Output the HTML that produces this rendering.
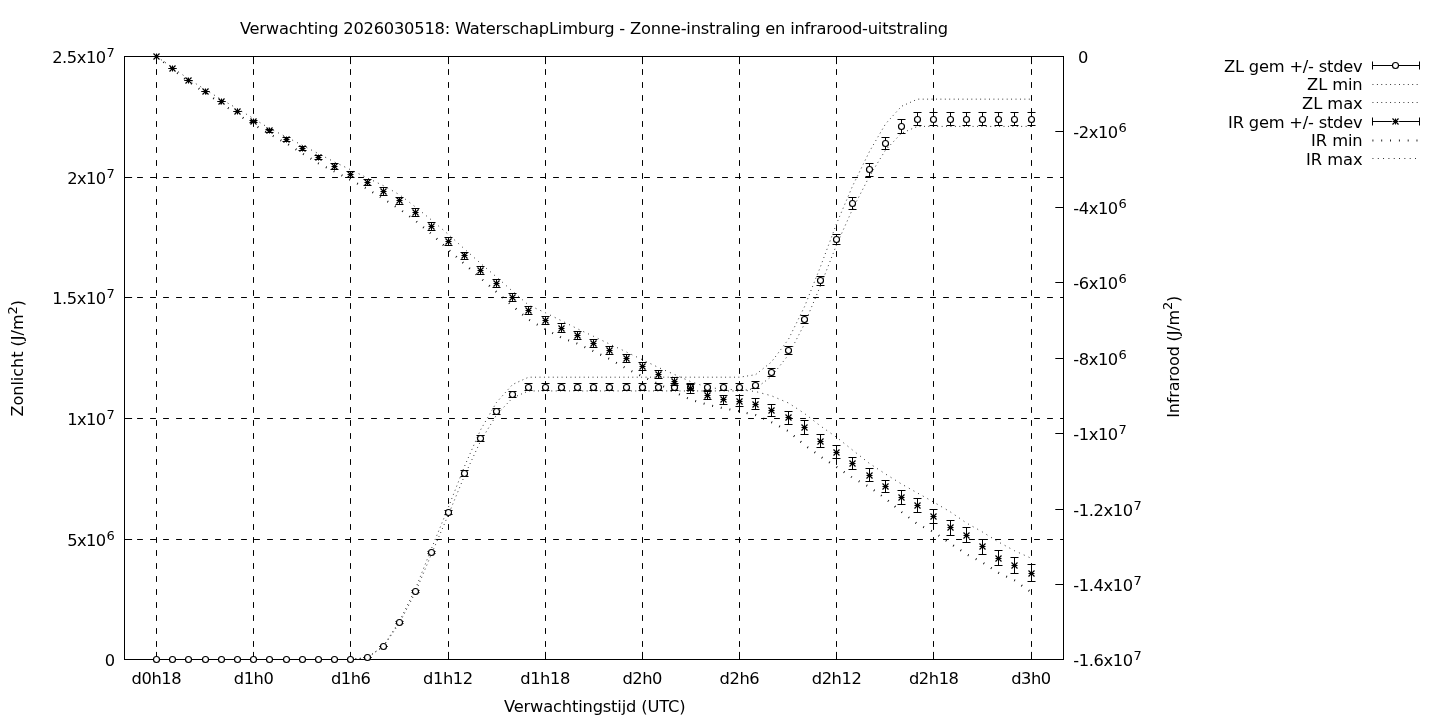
<!DOCTYPE html>
<html lang="nl"><head><meta charset="utf-8"><title>Verwachting 2026030518: WaterschapLimburg</title>
<style>html,body{margin:0;padding:0;background:#fff}svg{display:block}</style></head>
<body>
<svg width="1440" height="720" viewBox="0 0 1440 720">
<rect width="1440" height="720" fill="#fff"/>
<g stroke="#000" stroke-width="1" stroke-dasharray="5 8" stroke-linecap="round" fill="none">
<path d="M156.5 659.5 V56.5"/>
<path d="M253.5 659.5 V56.5"/>
<path d="M350.5 659.5 V56.5"/>
<path d="M448.5 659.5 V56.5"/>
<path d="M545.5 659.5 V56.5"/>
<path d="M642.5 659.5 V56.5"/>
<path d="M739.5 659.5 V56.5"/>
<path d="M836.5 659.5 V56.5"/>
<path d="M933.5 659.5 V56.5"/>
<path d="M1031.5 659.5 V56.5"/>
<path d="M124.5 539.5 H1063.5"/>
<path d="M124.5 418.5 H1063.5"/>
<path d="M124.5 297.5 H1063.5"/>
<path d="M124.5 177.5 H1063.5"/>
</g>
<g stroke="#000" stroke-width="1" fill="none">
<path d="M156.5 659.5 v-7.6"/>
<path d="M156.5 56.5 v7.6"/>
<path d="M253.5 659.5 v-7.6"/>
<path d="M253.5 56.5 v7.6"/>
<path d="M350.5 659.5 v-7.6"/>
<path d="M350.5 56.5 v7.6"/>
<path d="M448.5 659.5 v-7.6"/>
<path d="M448.5 56.5 v7.6"/>
<path d="M545.5 659.5 v-7.6"/>
<path d="M545.5 56.5 v7.6"/>
<path d="M642.5 659.5 v-7.6"/>
<path d="M642.5 56.5 v7.6"/>
<path d="M739.5 659.5 v-7.6"/>
<path d="M739.5 56.5 v7.6"/>
<path d="M836.5 659.5 v-7.6"/>
<path d="M836.5 56.5 v7.6"/>
<path d="M933.5 659.5 v-7.6"/>
<path d="M933.5 56.5 v7.6"/>
<path d="M1031.5 659.5 v-7.6"/>
<path d="M1031.5 56.5 v7.6"/>
<path d="M124.5 539.5 h7.6"/>
<path d="M124.5 418.5 h7.6"/>
<path d="M124.5 297.5 h7.6"/>
<path d="M124.5 177.5 h7.6"/>
<path d="M124.5 659.5 h7.6"/>
<path d="M124.5 56.5 h7.6"/>
<path d="M1063.5 56.5 h-8.2"/>
<path d="M1063.5 131.5 h-8.2"/>
<path d="M1063.5 207.5 h-8.2"/>
<path d="M1063.5 282.5 h-8.2"/>
<path d="M1063.5 358.5 h-8.2"/>
<path d="M1063.5 433.5 h-8.2"/>
<path d="M1063.5 509.5 h-8.2"/>
<path d="M1063.5 584.5 h-8.2"/>
<path d="M1063.5 659.5 h-8.2"/>
</g>
<rect x="124.5" y="56.5" width="939" height="603" fill="none" stroke="#000" stroke-width="1"/>
<g font-family="DejaVu Sans, Liberation Sans, sans-serif" font-size="16.3" fill="#000">
<text x="104.8" y="665.8" textLength="10" lengthAdjust="spacing">0</text>
<text x="67.2" y="545.8" textLength="39" lengthAdjust="spacing">5x10</text><text x="106.5" y="539.9" font-size="13">6</text>
<text x="67.2" y="424.8" textLength="39" lengthAdjust="spacing">1x10</text><text x="106.5" y="418.9" font-size="13">7</text>
<text x="52.2" y="303.8" textLength="54" lengthAdjust="spacing">1.5x10</text><text x="106.5" y="297.9" font-size="13">7</text>
<text x="67.2" y="183.8" textLength="39" lengthAdjust="spacing">2x10</text><text x="106.5" y="177.9" font-size="13">7</text>
<text x="52.2" y="62.8" textLength="54" lengthAdjust="spacing">2.5x10</text><text x="106.5" y="56.9" font-size="13">7</text>
<text x="1078.1" y="62.6" textLength="10" lengthAdjust="spacing">0</text>
<text x="1073.2" y="137.6" textLength="45" lengthAdjust="spacing">-2x10</text><text x="1118.5" y="131.7" font-size="13">6</text>
<text x="1073.2" y="213.6" textLength="45" lengthAdjust="spacing">-4x10</text><text x="1118.5" y="207.7" font-size="13">6</text>
<text x="1073.2" y="288.6" textLength="45" lengthAdjust="spacing">-6x10</text><text x="1118.5" y="282.7" font-size="13">6</text>
<text x="1073.2" y="364.6" textLength="45" lengthAdjust="spacing">-8x10</text><text x="1118.5" y="358.7" font-size="13">6</text>
<text x="1073.2" y="439.6" textLength="45" lengthAdjust="spacing">-1x10</text><text x="1118.5" y="433.7" font-size="13">7</text>
<text x="1073.2" y="515.6" textLength="60" lengthAdjust="spacing">-1.2x10</text><text x="1133.5" y="509.7" font-size="13">7</text>
<text x="1073.2" y="590.6" textLength="60" lengthAdjust="spacing">-1.4x10</text><text x="1133.5" y="584.7" font-size="13">7</text>
<text x="1073.2" y="665.6" textLength="60" lengthAdjust="spacing">-1.6x10</text><text x="1133.5" y="659.7" font-size="13">7</text>
<text x="131.6" y="684.3" textLength="50" lengthAdjust="spacing">d0h18</text>
<text x="233.77" y="684.3" textLength="40" lengthAdjust="spacing">d1h0</text>
<text x="330.94" y="684.3" textLength="40" lengthAdjust="spacing">d1h6</text>
<text x="423.11" y="684.3" textLength="50" lengthAdjust="spacing">d1h12</text>
<text x="520.28" y="684.3" textLength="50" lengthAdjust="spacing">d1h18</text>
<text x="622.45" y="684.3" textLength="40" lengthAdjust="spacing">d2h0</text>
<text x="719.62" y="684.3" textLength="40" lengthAdjust="spacing">d2h6</text>
<text x="811.79" y="684.3" textLength="50" lengthAdjust="spacing">d2h12</text>
<text x="908.96" y="684.3" textLength="50" lengthAdjust="spacing">d2h18</text>
<text x="1011.13" y="684.3" textLength="40" lengthAdjust="spacing">d3h0</text>
<text x="504" y="712.1" textLength="181.5" lengthAdjust="spacing">Verwachtingstijd (UTC)</text>
<text x="239.9" y="34.3" textLength="708.2" lengthAdjust="spacing">Verwachting 2026030518: WaterschapLimburg - Zonne-instraling en infrarood-uitstraling</text>
<text transform="translate(23.4 358.2) rotate(-90)" text-anchor="middle" font-size="16">Zonlicht (J/m<tspan font-size="13" dy="-6.8">2</tspan><tspan dy="6.8">)</tspan></text>
<text transform="translate(1179 356.85) rotate(-90)" text-anchor="middle" font-size="16" letter-spacing="-0.15">Infrarood (J/m<tspan font-size="13" dy="-6.8">2</tspan><tspan dy="6.8">)</tspan></text>
<text x="1224.1" y="71.7" textLength="138.6" lengthAdjust="spacing">ZL gem +/- stdev</text>
<text x="1307.1" y="90.2" textLength="55.6" lengthAdjust="spacing">ZL min</text>
<text x="1302.1" y="108.8" textLength="60.6" lengthAdjust="spacing">ZL max</text>
<text x="1228.1" y="127.6" textLength="134.6" lengthAdjust="spacing">IR gem +/- stdev</text>
<text x="1311.1" y="145.9" textLength="51.6" lengthAdjust="spacing">IR min</text>
<text x="1306.1" y="164.6" textLength="56.6" lengthAdjust="spacing">IR max</text>
</g>
<polyline points="156.5,659.5 172.5,659.5 188.5,659.5 205.5,659.5 221.5,659.5 237.5,659.5 253.5,659.5 269.5,659.5 286.5,659.5 302.5,659.5 318.5,659.5 334.5,659.5 350.5,659.5 367.5,657.53 383.5,646.47 399.5,622.98 415.5,592.19 431.5,553.89 448.5,514.41 464.5,475.72 480.5,441.18 496.5,414.92 512.5,397.94 528.5,390.94 545.5,390.94 561.5,390.94 577.5,390.94 593.5,390.94 609.5,390.94 626.5,390.94 642.5,390.94 658.5,390.94 674.5,390.94 690.5,390.94 707.5,390.94 723.5,390.94 739.5,390.94 755.5,388.57 771.5,376.43 788.5,354.81 804.5,323.92 820.5,285.72 836.5,244.96 852.5,209.23 869.5,176.17 885.5,150.01 901.5,133.23 917.5,126.42 933.5,126.42 950.5,126.42 966.5,126.42 982.5,126.42 998.5,126.42 1014.5,126.42 1031.5,126.42" stroke="#000" stroke-width="0.88" stroke-dasharray="0.88 3.54" fill="none"/>
<polyline points="156.5,659.5 172.5,659.5 188.5,659.5 205.5,659.5 221.5,659.5 237.5,659.5 253.5,659.5 269.5,659.5 286.5,659.5 302.5,659.5 318.5,659.5 334.5,659.5 350.5,659.5 367.5,657.42 383.5,645.8 399.5,621.11 415.5,588.74 431.5,548.49 448.5,506.99 464.5,466.32 480.5,430 496.5,402.41 512.5,384.56 528.5,377.2 545.5,377.2 561.5,377.2 577.5,377.2 593.5,377.2 609.5,377.2 626.5,377.2 642.5,377.2 658.5,377.2 674.5,377.2 690.5,377.2 707.5,377.2 723.5,377.2 739.5,377.2 755.5,374.71 771.5,361.94 788.5,339.22 804.5,306.75 820.5,266.6 836.5,223.75 852.5,186.19 869.5,151.44 885.5,123.94 901.5,106.3 917.5,99.15 933.5,99.15 950.5,99.15 966.5,99.15 982.5,99.15 998.5,99.15 1014.5,99.15 1031.5,99.15" stroke="#000" stroke-width="0.88" stroke-dasharray="0.88 3.54" fill="none"/>
<polyline points="156.5,56.5 172.5,69.3 188.5,81.6 205.5,93 221.5,103.8 237.5,114.2 253.5,124.5 269.5,134 286.5,143.3 302.5,153.5 318.5,163.4 334.5,171.5 350.5,180 367.5,189 383.5,199 399.5,209 415.5,220.8 431.5,234 448.5,249.8 464.5,264 480.5,278.1 496.5,292 512.5,306 528.5,319.5 545.5,329.3 561.5,337.7 577.5,343.7 593.5,351.2 609.5,359 626.5,368.6 642.5,376.5 658.5,384 674.5,392.2 690.5,399.5 707.5,404.7 723.5,408.3 739.5,411.3 755.5,415 771.5,422.2 788.5,431.2 804.5,445 820.5,456.5 836.5,467 852.5,477.7 869.5,487 885.5,498.5 901.5,512 917.5,524 933.5,532 950.5,543.5 966.5,554.3 982.5,562.4 998.5,572.8 1014.5,580.4 1031.5,592.4" stroke="#000" stroke-width="2.1" stroke-dasharray="0.85 7.96" fill="none"/>
<polyline points="156.5,56.5 172.5,67.5 188.5,79 205.5,89.8 221.5,99.5 237.5,108.7 253.5,118.6 269.5,128.4 286.5,137 302.5,145.4 318.5,153.7 334.5,162 350.5,169.7 367.5,178 383.5,185.7 399.5,194.7 415.5,207 431.5,220 448.5,234.5 464.5,249 480.5,263.3 496.5,277 512.5,291.2 528.5,305 545.5,312.8 561.5,320.7 577.5,328.8 593.5,336.3 609.5,344 626.5,352 642.5,359.8 658.5,367.5 674.5,374.5 690.5,381.5 707.5,387.3 723.5,389.3 739.5,389.8 755.5,391.5 771.5,395.8 788.5,403 804.5,413.5 820.5,426 836.5,437.2 852.5,450 869.5,463.5 885.5,474 901.5,484 917.5,493 933.5,502 950.5,512 966.5,523 982.5,532 998.5,542 1014.5,550.7 1031.5,558.4" stroke="#000" stroke-width="0.9" stroke-dasharray="0.9 4.42" fill="none"/>
<path d="M1372.5 84.5 H1419.5" stroke="#000" stroke-width="0.88" stroke-dasharray="0.88 3.54" fill="none"/>
<path d="M1372.5 102.5 H1419.5" stroke="#000" stroke-width="0.88" stroke-dasharray="0.88 3.54" fill="none"/>
<path d="M1372.5 140.5 H1419.5" stroke="#000" stroke-width="2.1" stroke-dasharray="0.85 7.96" fill="none"/>
<path d="M1372.5 158.5 H1419.5" stroke="#000" stroke-width="0.9" stroke-dasharray="0.9 4.42" fill="none"/>
<path d="M156.5 659.5 V659.5 M152.5 659.5 h8 M152.5 659.5 h8 M172.5 659.5 V659.5 M168.5 659.5 h8 M168.5 659.5 h8 M188.5 659.5 V659.5 M184.5 659.5 h8 M184.5 659.5 h8 M205.5 659.5 V659.5 M201.5 659.5 h8 M201.5 659.5 h8 M221.5 659.5 V659.5 M217.5 659.5 h8 M217.5 659.5 h8 M237.5 659.5 V659.5 M233.5 659.5 h8 M233.5 659.5 h8 M253.5 659.5 V659.5 M249.5 659.5 h8 M249.5 659.5 h8 M269.5 659.5 V659.5 M265.5 659.5 h8 M265.5 659.5 h8 M286.5 659.5 V659.5 M282.5 659.5 h8 M282.5 659.5 h8 M302.5 659.5 V659.5 M298.5 659.5 h8 M298.5 659.5 h8 M318.5 659.5 V659.5 M314.5 659.5 h8 M314.5 659.5 h8 M334.5 659.5 V659.5 M330.5 659.5 h8 M330.5 659.5 h8 M350.5 659.5 V659.5 M346.5 659.5 h8 M346.5 659.5 h8 M367.5 657.5 V657.5 M363.5 657.5 h8 M363.5 657.5 h8 M383.5 646.5 V646.5 M379.5 646.5 h8 M379.5 646.5 h8 M399.5 621.5 V623.5 M395.5 621.5 h8 M395.5 623.5 h8 M415.5 590.5 V592.5 M411.5 590.5 h8 M411.5 592.5 h8 M431.5 551.5 V553.5 M427.5 551.5 h8 M427.5 553.5 h8 M448.5 510.5 V514.5 M444.5 510.5 h8 M444.5 514.5 h8 M464.5 470.5 V476.5 M460.5 470.5 h8 M460.5 476.5 h8 M480.5 435.5 V441.5 M476.5 435.5 h8 M476.5 441.5 h8 M496.5 408.5 V414.5 M492.5 408.5 h8 M492.5 414.5 h8 M512.5 391.5 V397.5 M508.5 391.5 h8 M508.5 397.5 h8 M528.5 383.5 V390.5 M524.5 383.5 h8 M524.5 390.5 h8 M545.5 383.5 V390.5 M541.5 383.5 h8 M541.5 390.5 h8 M561.5 383.5 V390.5 M557.5 383.5 h8 M557.5 390.5 h8 M577.5 383.5 V390.5 M573.5 383.5 h8 M573.5 390.5 h8 M593.5 383.5 V390.5 M589.5 383.5 h8 M589.5 390.5 h8 M609.5 383.5 V390.5 M605.5 383.5 h8 M605.5 390.5 h8 M626.5 383.5 V390.5 M622.5 383.5 h8 M622.5 390.5 h8 M642.5 383.5 V390.5 M638.5 383.5 h8 M638.5 390.5 h8 M658.5 383.5 V390.5 M654.5 383.5 h8 M654.5 390.5 h8 M674.5 383.5 V390.5 M670.5 383.5 h8 M670.5 390.5 h8 M690.5 383.5 V390.5 M686.5 383.5 h8 M686.5 390.5 h8 M707.5 383.5 V390.5 M703.5 383.5 h8 M703.5 390.5 h8 M723.5 383.5 V390.5 M719.5 383.5 h8 M719.5 390.5 h8 M739.5 383.5 V390.5 M735.5 383.5 h8 M735.5 390.5 h8 M755.5 381.5 V388.5 M751.5 381.5 h8 M751.5 388.5 h8 M771.5 368.5 V376.5 M767.5 368.5 h8 M767.5 376.5 h8 M788.5 346.5 V354.5 M784.5 346.5 h8 M784.5 354.5 h8 M804.5 315.5 V323.5 M800.5 315.5 h8 M800.5 323.5 h8 M820.5 276.5 V285.5 M816.5 276.5 h8 M816.5 285.5 h8 M836.5 234.5 V244.5 M832.5 234.5 h8 M832.5 244.5 h8 M852.5 197.5 V209.5 M848.5 197.5 h8 M848.5 209.5 h8 M869.5 163.5 V176.5 M865.5 163.5 h8 M865.5 176.5 h8 M885.5 137.5 V149.5 M881.5 137.5 h8 M881.5 149.5 h8 M901.5 119.5 V133.5 M897.5 119.5 h8 M897.5 133.5 h8 M917.5 112.5 V125.5 M913.5 112.5 h8 M913.5 125.5 h8 M933.5 112.5 V125.5 M929.5 112.5 h8 M929.5 125.5 h8 M950.5 112.5 V125.5 M946.5 112.5 h8 M946.5 125.5 h8 M966.5 112.5 V125.5 M962.5 112.5 h8 M962.5 125.5 h8 M982.5 112.5 V125.5 M978.5 112.5 h8 M978.5 125.5 h8 M998.5 112.5 V125.5 M994.5 112.5 h8 M994.5 125.5 h8 M1014.5 112.5 V125.5 M1010.5 112.5 h8 M1010.5 125.5 h8 M1031.5 112.5 V125.5 M1027.5 112.5 h8 M1027.5 125.5 h8 M1372.5 65.5 H1419.5 M1372.5 61.5 v8 M1419.5 61.5 v8" stroke="#000" stroke-width="1" fill="none"/>
<g stroke="#000" stroke-width="1.15" fill="#fff">
<circle cx="156.5" cy="659.5" r="3"/>
<circle cx="172.5" cy="659.5" r="3"/>
<circle cx="188.5" cy="659.5" r="3"/>
<circle cx="205.5" cy="659.5" r="3"/>
<circle cx="221.5" cy="659.5" r="3"/>
<circle cx="237.5" cy="659.5" r="3"/>
<circle cx="253.5" cy="659.5" r="3"/>
<circle cx="269.5" cy="659.5" r="3"/>
<circle cx="286.5" cy="659.5" r="3"/>
<circle cx="302.5" cy="659.5" r="3"/>
<circle cx="318.5" cy="659.5" r="3"/>
<circle cx="334.5" cy="659.5" r="3"/>
<circle cx="350.5" cy="659.5" r="3"/>
<circle cx="367.5" cy="657.5" r="3"/>
<circle cx="383.5" cy="646.5" r="3"/>
<circle cx="399.5" cy="622.5" r="3"/>
<circle cx="415.5" cy="591.5" r="3"/>
<circle cx="431.5" cy="552.5" r="3"/>
<circle cx="448.5" cy="512.5" r="3"/>
<circle cx="464.5" cy="473.5" r="3"/>
<circle cx="480.5" cy="438.5" r="3"/>
<circle cx="496.5" cy="411.5" r="3"/>
<circle cx="512.5" cy="394.5" r="3"/>
<circle cx="528.5" cy="387.5" r="3"/>
<circle cx="545.5" cy="387.5" r="3"/>
<circle cx="561.5" cy="387.5" r="3"/>
<circle cx="577.5" cy="387.5" r="3"/>
<circle cx="593.5" cy="387.5" r="3"/>
<circle cx="609.5" cy="387.5" r="3"/>
<circle cx="626.5" cy="387.5" r="3"/>
<circle cx="642.5" cy="387.5" r="3"/>
<circle cx="658.5" cy="387.5" r="3"/>
<circle cx="674.5" cy="387.5" r="3"/>
<circle cx="690.5" cy="387.5" r="3"/>
<circle cx="707.5" cy="387.5" r="3"/>
<circle cx="723.5" cy="387.5" r="3"/>
<circle cx="739.5" cy="387.5" r="3"/>
<circle cx="755.5" cy="385.5" r="3"/>
<circle cx="771.5" cy="372.5" r="3"/>
<circle cx="788.5" cy="350.5" r="3"/>
<circle cx="804.5" cy="319.5" r="3"/>
<circle cx="820.5" cy="280.5" r="3"/>
<circle cx="836.5" cy="239.5" r="3"/>
<circle cx="852.5" cy="203.5" r="3"/>
<circle cx="869.5" cy="169.5" r="3"/>
<circle cx="885.5" cy="143.5" r="3"/>
<circle cx="901.5" cy="126.5" r="3"/>
<circle cx="917.5" cy="119.5" r="3"/>
<circle cx="933.5" cy="119.5" r="3"/>
<circle cx="950.5" cy="119.5" r="3"/>
<circle cx="966.5" cy="119.5" r="3"/>
<circle cx="982.5" cy="119.5" r="3"/>
<circle cx="998.5" cy="119.5" r="3"/>
<circle cx="1014.5" cy="119.5" r="3"/>
<circle cx="1031.5" cy="119.5" r="3"/>
<circle cx="1395.5" cy="65.5" r="3"/>
</g>
<path d="M156.5 56.5 V56.5 M152.5 56.5 h8 M152.5 56.5 h8 M172.5 68.5 V68.5 M168.5 68.5 h8 M168.5 68.5 h8 M188.5 80.5 V80.5 M184.5 80.5 h8 M184.5 80.5 h8 M205.5 91.5 V91.5 M201.5 91.5 h8 M201.5 91.5 h8 M221.5 101.5 V101.5 M217.5 101.5 h8 M217.5 101.5 h8 M237.5 111.5 V111.5 M233.5 111.5 h8 M233.5 111.5 h8 M253.5 120.5 V122.5 M249.5 120.5 h8 M249.5 122.5 h8 M269.5 129.5 V132.5 M265.5 129.5 h8 M265.5 132.5 h8 M286.5 137.5 V141.5 M282.5 137.5 h8 M282.5 141.5 h8 M302.5 146.5 V150.5 M298.5 146.5 h8 M298.5 150.5 h8 M318.5 155.5 V159.5 M314.5 155.5 h8 M314.5 159.5 h8 M334.5 163.5 V169.5 M330.5 163.5 h8 M330.5 169.5 h8 M350.5 171.5 V177.5 M346.5 171.5 h8 M346.5 177.5 h8 M367.5 179.5 V185.5 M363.5 179.5 h8 M363.5 185.5 h8 M383.5 187.5 V195.5 M379.5 187.5 h8 M379.5 195.5 h8 M399.5 197.5 V204.5 M395.5 197.5 h8 M395.5 204.5 h8 M415.5 208.5 V216.5 M411.5 208.5 h8 M411.5 216.5 h8 M431.5 222.5 V230.5 M427.5 222.5 h8 M427.5 230.5 h8 M448.5 237.5 V245.5 M444.5 237.5 h8 M444.5 245.5 h8 M464.5 252.5 V259.5 M460.5 252.5 h8 M460.5 259.5 h8 M480.5 266.5 V274.5 M476.5 266.5 h8 M476.5 274.5 h8 M496.5 279.5 V287.5 M492.5 279.5 h8 M492.5 287.5 h8 M512.5 293.5 V301.5 M508.5 293.5 h8 M508.5 301.5 h8 M528.5 306.5 V314.5 M524.5 306.5 h8 M524.5 314.5 h8 M545.5 316.5 V324.5 M541.5 316.5 h8 M541.5 324.5 h8 M561.5 323.5 V332.5 M557.5 323.5 h8 M557.5 332.5 h8 M577.5 331.5 V339.5 M573.5 331.5 h8 M573.5 339.5 h8 M593.5 339.5 V347.5 M589.5 339.5 h8 M589.5 347.5 h8 M609.5 346.5 V354.5 M605.5 346.5 h8 M605.5 354.5 h8 M626.5 354.5 V362.5 M622.5 354.5 h8 M622.5 362.5 h8 M642.5 362.5 V370.5 M638.5 362.5 h8 M638.5 370.5 h8 M658.5 370.5 V378.5 M654.5 370.5 h8 M654.5 378.5 h8 M674.5 377.5 V385.5 M670.5 377.5 h8 M670.5 385.5 h8 M690.5 384.5 V393.5 M686.5 384.5 h8 M686.5 393.5 h8 M707.5 391.5 V399.5 M703.5 391.5 h8 M703.5 399.5 h8 M723.5 395.5 V404.5 M719.5 395.5 h8 M719.5 404.5 h8 M739.5 395.5 V406.5 M735.5 395.5 h8 M735.5 406.5 h8 M755.5 398.5 V409.5 M751.5 398.5 h8 M751.5 409.5 h8 M771.5 404.5 V416.5 M767.5 404.5 h8 M767.5 416.5 h8 M788.5 411.5 V424.5 M784.5 411.5 h8 M784.5 424.5 h8 M804.5 420.5 V434.5 M800.5 420.5 h8 M800.5 434.5 h8 M820.5 434.5 V447.5 M816.5 434.5 h8 M816.5 447.5 h8 M836.5 445.5 V458.5 M832.5 445.5 h8 M832.5 458.5 h8 M852.5 457.5 V469.5 M848.5 457.5 h8 M848.5 469.5 h8 M869.5 468.5 V481.5 M865.5 468.5 h8 M865.5 481.5 h8 M885.5 480.5 V492.5 M881.5 480.5 h8 M881.5 492.5 h8 M901.5 490.5 V504.5 M897.5 490.5 h8 M897.5 504.5 h8 M917.5 498.5 V512.5 M913.5 498.5 h8 M913.5 512.5 h8 M933.5 509.5 V523.5 M929.5 509.5 h8 M929.5 523.5 h8 M950.5 520.5 V535.5 M946.5 520.5 h8 M946.5 535.5 h8 M966.5 527.5 V542.5 M962.5 527.5 h8 M962.5 542.5 h8 M982.5 539.5 V554.5 M978.5 539.5 h8 M978.5 554.5 h8 M998.5 550.5 V565.5 M994.5 550.5 h8 M994.5 565.5 h8 M1014.5 557.5 V573.5 M1010.5 557.5 h8 M1010.5 573.5 h8 M1031.5 564.5 V581.5 M1027.5 564.5 h8 M1027.5 581.5 h8 M1372.5 121.5 H1391.9 M1399.1 121.5 H1419.5 M1372.5 117.5 v8 M1419.5 117.5 v8 M153.5 56.5 h6 M156.5 53.5 v6 M169.5 68.5 h6 M172.5 65.5 v6 M185.5 80.5 h6 M188.5 77.5 v6 M202.5 91.5 h6 M205.5 88.5 v6 M218.5 101.5 h6 M221.5 98.5 v6 M234.5 111.5 h6 M237.5 108.5 v6 M250.5 121.5 h6 M253.5 118.5 v6 M266.5 130.5 h6 M269.5 127.5 v6 M283.5 139.5 h6 M286.5 136.5 v6 M299.5 148.5 h6 M302.5 145.5 v6 M315.5 157.5 h6 M318.5 154.5 v6 M331.5 166.5 h6 M334.5 163.5 v6 M347.5 174.5 h6 M350.5 171.5 v6 M364.5 182.5 h6 M367.5 179.5 v6 M380.5 191.5 h6 M383.5 188.5 v6 M396.5 200.5 h6 M399.5 197.5 v6 M412.5 212.5 h6 M415.5 209.5 v6 M428.5 226.5 h6 M431.5 223.5 v6 M445.5 241.5 h6 M448.5 238.5 v6 M461.5 255.5 h6 M464.5 252.5 v6 M477.5 270.5 h6 M480.5 267.5 v6 M493.5 283.5 h6 M496.5 280.5 v6 M509.5 297.5 h6 M512.5 294.5 v6 M525.5 310.5 h6 M528.5 307.5 v6 M542.5 320.5 h6 M545.5 317.5 v6 M558.5 328.5 h6 M561.5 325.5 v6 M574.5 335.5 h6 M577.5 332.5 v6 M590.5 343.5 h6 M593.5 340.5 v6 M606.5 350.5 h6 M609.5 347.5 v6 M623.5 358.5 h6 M626.5 355.5 v6 M639.5 366.5 h6 M642.5 363.5 v6 M655.5 374.5 h6 M658.5 371.5 v6 M671.5 381.5 h6 M674.5 378.5 v6 M687.5 388.5 h6 M690.5 385.5 v6 M704.5 395.5 h6 M707.5 392.5 v6 M720.5 399.5 h6 M723.5 396.5 v6 M736.5 401.5 h6 M739.5 398.5 v6 M752.5 404.5 h6 M755.5 401.5 v6 M768.5 410.5 h6 M771.5 407.5 v6 M785.5 417.5 h6 M788.5 414.5 v6 M801.5 427.5 h6 M804.5 424.5 v6 M817.5 441.5 h6 M820.5 438.5 v6 M833.5 452.5 h6 M836.5 449.5 v6 M849.5 463.5 h6 M852.5 460.5 v6 M866.5 475.5 h6 M869.5 472.5 v6 M882.5 486.5 h6 M885.5 483.5 v6 M898.5 497.5 h6 M901.5 494.5 v6 M914.5 505.5 h6 M917.5 502.5 v6 M930.5 516.5 h6 M933.5 513.5 v6 M947.5 527.5 h6 M950.5 524.5 v6 M963.5 535.5 h6 M966.5 532.5 v6 M979.5 546.5 h6 M982.5 543.5 v6 M995.5 558.5 h6 M998.5 555.5 v6 M1011.5 565.5 h6 M1014.5 562.5 v6 M1028.5 573.5 h6 M1031.5 570.5 v6 M1392.5 121.5 h6 M1395.5 118.5 v6" stroke="#000" stroke-width="1" fill="none"/>
<path d="M153.5 53.5 l6 6 M153.5 59.5 l6 -6 M169.5 65.5 l6 6 M169.5 71.5 l6 -6 M185.5 77.5 l6 6 M185.5 83.5 l6 -6 M202.5 88.5 l6 6 M202.5 94.5 l6 -6 M218.5 98.5 l6 6 M218.5 104.5 l6 -6 M234.5 108.5 l6 6 M234.5 114.5 l6 -6 M250.5 118.5 l6 6 M250.5 124.5 l6 -6 M266.5 127.5 l6 6 M266.5 133.5 l6 -6 M283.5 136.5 l6 6 M283.5 142.5 l6 -6 M299.5 145.5 l6 6 M299.5 151.5 l6 -6 M315.5 154.5 l6 6 M315.5 160.5 l6 -6 M331.5 163.5 l6 6 M331.5 169.5 l6 -6 M347.5 171.5 l6 6 M347.5 177.5 l6 -6 M364.5 179.5 l6 6 M364.5 185.5 l6 -6 M380.5 188.5 l6 6 M380.5 194.5 l6 -6 M396.5 197.5 l6 6 M396.5 203.5 l6 -6 M412.5 209.5 l6 6 M412.5 215.5 l6 -6 M428.5 223.5 l6 6 M428.5 229.5 l6 -6 M445.5 238.5 l6 6 M445.5 244.5 l6 -6 M461.5 252.5 l6 6 M461.5 258.5 l6 -6 M477.5 267.5 l6 6 M477.5 273.5 l6 -6 M493.5 280.5 l6 6 M493.5 286.5 l6 -6 M509.5 294.5 l6 6 M509.5 300.5 l6 -6 M525.5 307.5 l6 6 M525.5 313.5 l6 -6 M542.5 317.5 l6 6 M542.5 323.5 l6 -6 M558.5 325.5 l6 6 M558.5 331.5 l6 -6 M574.5 332.5 l6 6 M574.5 338.5 l6 -6 M590.5 340.5 l6 6 M590.5 346.5 l6 -6 M606.5 347.5 l6 6 M606.5 353.5 l6 -6 M623.5 355.5 l6 6 M623.5 361.5 l6 -6 M639.5 363.5 l6 6 M639.5 369.5 l6 -6 M655.5 371.5 l6 6 M655.5 377.5 l6 -6 M671.5 378.5 l6 6 M671.5 384.5 l6 -6 M687.5 385.5 l6 6 M687.5 391.5 l6 -6 M704.5 392.5 l6 6 M704.5 398.5 l6 -6 M720.5 396.5 l6 6 M720.5 402.5 l6 -6 M736.5 398.5 l6 6 M736.5 404.5 l6 -6 M752.5 401.5 l6 6 M752.5 407.5 l6 -6 M768.5 407.5 l6 6 M768.5 413.5 l6 -6 M785.5 414.5 l6 6 M785.5 420.5 l6 -6 M801.5 424.5 l6 6 M801.5 430.5 l6 -6 M817.5 438.5 l6 6 M817.5 444.5 l6 -6 M833.5 449.5 l6 6 M833.5 455.5 l6 -6 M849.5 460.5 l6 6 M849.5 466.5 l6 -6 M866.5 472.5 l6 6 M866.5 478.5 l6 -6 M882.5 483.5 l6 6 M882.5 489.5 l6 -6 M898.5 494.5 l6 6 M898.5 500.5 l6 -6 M914.5 502.5 l6 6 M914.5 508.5 l6 -6 M930.5 513.5 l6 6 M930.5 519.5 l6 -6 M947.5 524.5 l6 6 M947.5 530.5 l6 -6 M963.5 532.5 l6 6 M963.5 538.5 l6 -6 M979.5 543.5 l6 6 M979.5 549.5 l6 -6 M995.5 555.5 l6 6 M995.5 561.5 l6 -6 M1011.5 562.5 l6 6 M1011.5 568.5 l6 -6 M1028.5 570.5 l6 6 M1028.5 576.5 l6 -6 M1392.5 118.5 l6 6 M1392.5 124.5 l6 -6" stroke="#000" stroke-width="1.2" fill="none"/>
</svg>
</body></html>
